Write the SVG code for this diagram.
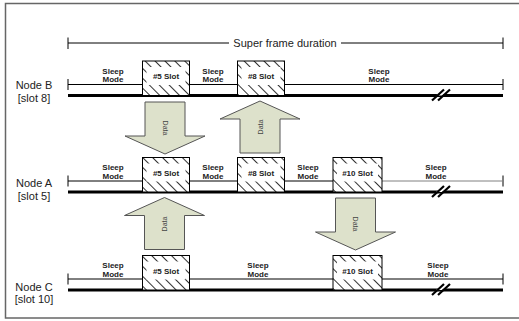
<svg xmlns="http://www.w3.org/2000/svg" width="519" height="321" viewBox="0 0 519 321">
<style>
  .lbl{font-family:"Liberation Sans",Arial,sans-serif;font-size:11px;fill:#222}
  .sm{font-family:"Liberation Sans",Arial,sans-serif;font-size:8px;font-weight:bold;fill:#222;text-anchor:middle}
  .dt{font-family:"Liberation Sans",Arial,sans-serif;font-size:7px;fill:#444;text-anchor:middle}
  .thin{stroke:#000;stroke-width:1;fill:none}
  .gray{stroke:#808080;stroke-width:1;fill:none}
  .thick{stroke:#000;stroke-width:3;fill:none}
  .slot{fill:url(#hatch);stroke:#000;stroke-width:1}
  .inner{fill:#fff;stroke:none}
  .arrow{fill:#dde1cb;stroke:#555;stroke-width:1}
  .brk{stroke:#000;stroke-width:2.2;fill:none}
</style>
<defs>
  <pattern id="hatch" patternUnits="userSpaceOnUse" width="7" height="7" patternTransform="rotate(-45)">
    <rect width="7" height="7" fill="#fff"/>
    <line x1="3.5" y1="0" x2="3.5" y2="7" stroke="#333" stroke-width="1"/>
  </pattern>
</defs>
<rect x="5.5" y="3.5" width="530" height="314.5" fill="#fff" stroke="#666" stroke-width="1.5"/>

<g id="superframe">
  <path class="thin" d="M68,43 H229 M341,43 H503 M68,37.5 V49 M503,37.5 V49"/>
  <text class="lbl" x="285" y="47" text-anchor="middle">Super frame duration</text>
</g>

<g id="nodeB">
  <text class="lbl" x="34" y="89" text-anchor="middle">Node B</text>
  <text class="lbl" x="34" y="101.5" text-anchor="middle">[slot 8]</text>
  <path class="thin" d="M68,84.5 H142.5 M189.5,84.5 H237.5 M284.5,84.5 H503 M68,79 V90 M503,79 V90"/>
  <path class="thick" d="M68,95.5 H503"/>
  <g id="nodeB-slot5"><rect class="slot" x="142.5" y="61" width="47" height="34.5"/><rect class="inner" x="146.5" y="67" width="39" height="18"/><text class="sm" x="166" y="79">#5 Slot</text></g>
  <g id="nodeB-slot8"><rect class="slot" x="237.5" y="61" width="47" height="34.5"/><rect class="inner" x="241.5" y="67" width="39" height="18"/><text class="sm" x="261" y="79">#8 Slot</text></g>
  <text class="sm" x="113" y="73.5">Sleep</text><text class="sm" x="113" y="82">Mode</text>
  <text class="sm" x="213" y="73.5">Sleep</text><text class="sm" x="213" y="82">Mode</text>
  <text class="sm" x="379" y="73.5">Sleep</text><text class="sm" x="379" y="82">Mode</text>
  <polygon points="436,95.5 442,95.5 450,89 444,89" fill="#fff" stroke="none"/>
  <path class="brk" d="M432,100.5 L444,89.5 M438,100.5 L450,89.5"/>
</g>

<g id="nodeA">
  <text class="lbl" x="34" y="187" text-anchor="middle">Node A</text>
  <text class="lbl" x="34" y="199.5" text-anchor="middle">[slot 5]</text>
  <path class="thin" d="M68,181 H142.5 M189.5,181 H237.5 M284.5,181 H333 M68,175.5 V186.5 M503,175.5 V186.5"/>
  <path class="gray" d="M382,181 H503"/>
  <path class="thick" d="M68,192 H503"/>
  <g id="nodeA-slot5"><rect class="slot" x="142.5" y="157.5" width="47" height="34.5"/><rect class="inner" x="146.5" y="163.5" width="39" height="18"/><text class="sm" x="166" y="175.5">#5 Slot</text></g>
  <g id="nodeA-slot8"><rect class="slot" x="237.5" y="157.5" width="47" height="34.5"/><rect class="inner" x="241.5" y="163.5" width="39" height="18"/><text class="sm" x="261" y="175.5">#8 Slot</text></g>
  <g id="nodeA-slot10"><rect class="slot" x="333" y="157.5" width="49" height="34.5"/><rect class="inner" x="337" y="163.5" width="41" height="18"/><text class="sm" x="357.5" y="175.5">#10 Slot</text></g>
  <text class="sm" x="113" y="170">Sleep</text><text class="sm" x="113" y="178.5">Mode</text>
  <text class="sm" x="213" y="170">Sleep</text><text class="sm" x="213" y="178.5">Mode</text>
  <text class="sm" x="308" y="170">Sleep</text><text class="sm" x="308" y="178.5">Mode</text>
  <text class="sm" x="436" y="170">Sleep</text><text class="sm" x="436" y="178.5">Mode</text>
  <polygon points="436,192 442,192 450,185.5 444,185.5" fill="#fff" stroke="none"/>
  <path class="brk" d="M432,197 L444,186 M438,197 L450,186"/>
</g>

<g id="nodeC">
  <text class="lbl" x="34" y="290.5" text-anchor="middle">Node C</text>
  <text class="lbl" x="34" y="303" text-anchor="middle">[slot 10]</text>
  <path class="thin" d="M68,279 H142.5 M189.5,279 H333 M382,279 H503 M68,273.5 V284.5 M503,273.5 V284.5"/>
  <path class="thick" d="M68,290 H503"/>
  <g id="nodeC-slot5"><rect class="slot" x="142.5" y="255.5" width="47" height="34.5"/><rect class="inner" x="146.5" y="261.5" width="39" height="18"/><text class="sm" x="166" y="273.5">#5 Slot</text></g>
  <g id="nodeC-slot10"><rect class="slot" x="333" y="255.5" width="49" height="34.5"/><rect class="inner" x="337" y="261.5" width="41" height="18"/><text class="sm" x="357.5" y="273.5">#10 Slot</text></g>
  <text class="sm" x="113" y="268">Sleep</text><text class="sm" x="113" y="276.5">Mode</text>
  <text class="sm" x="258" y="268">Sleep</text><text class="sm" x="258" y="276.5">Mode</text>
  <text class="sm" x="438" y="268">Sleep</text><text class="sm" x="438" y="276.5">Mode</text>
  <polygon points="436,290 442,290 450,283.5 444,283.5" fill="#fff" stroke="none"/>
  <path class="brk" d="M432,295 L444,284 M438,295 L450,284"/>
</g>

<g id="connectors">
  <g id="arrow-B-to-A">
    <polygon class="arrow" points="145,102 185,102 185,136 205,136 165,154 125,136 145,136"/>
    <text class="dt" font-family="Liberation Sans, Arial, sans-serif" transform="translate(165,128) rotate(90)" y="2.5">Data</text>
  </g>
  <g id="arrow-A-to-B">
    <polygon class="arrow" points="260,101 300,119 280,119 280,153 240,153 240,119 220,119"/>
    <text class="dt" font-family="Liberation Sans, Arial, sans-serif" transform="translate(260,127) rotate(-90)" y="2.5">Data</text>
  </g>
  <g id="arrow-C-to-A">
    <polygon class="arrow" points="164.5,197.5 204.5,215.5 184.5,215.5 184.5,249.5 144.5,249.5 144.5,215.5 124.5,215.5"/>
    <text class="dt" font-family="Liberation Sans, Arial, sans-serif" transform="translate(164.5,224) rotate(-90)" y="2.5">Data</text>
  </g>
  <g id="arrow-A-to-C">
    <polygon class="arrow" points="335.5,198 375.5,198 375.5,232 395.5,232 355.5,250 315.5,232 335.5,232"/>
    <text class="dt" font-family="Liberation Sans, Arial, sans-serif" transform="translate(355.5,224) rotate(90)" y="2.5">Data</text>
  </g>
</g>
</svg>
